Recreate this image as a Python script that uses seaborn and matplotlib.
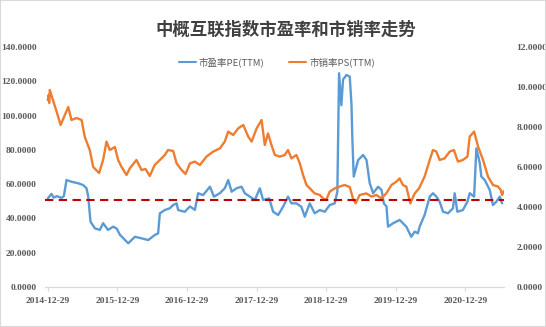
import matplotlib
matplotlib.use("Agg")
import matplotlib.pyplot as plt
import seaborn as sns
import pandas as pd
import numpy as np
from matplotlib.patches import Rectangle
from matplotlib.lines import Line2D

# ---------------- data ----------------
title_text = "中概互联指数市盈率和市销率走势"
pe_label = "市盈率PE(TTM)"
ps_label = "市销率PS(TTM)"
tick_labels = ["2014-12-29", "2015-12-29", "2016-12-29", "2017-12-29",
               "2018-12-29", "2019-12-29", "2020-12-29"]
pe_ticks = [0, 20, 40, 60, 80, 100, 120, 140]
ps_ticks = [0, 2, 4, 6, 8, 10, 12]
pe_ref = 50.8

pe_dates = [
    "2014-12-29", "2015-01-17", "2015-01-29", "2015-02-14", "2015-03-11", "2015-03-23",
    "2015-04-06", "2015-05-02", "2015-06-06", "2015-07-02", "2015-07-20", "2015-07-29",
    "2015-08-10", "2015-09-02", "2015-09-28", "2015-10-15", "2015-11-10", "2015-12-07",
    "2015-12-26", "2016-01-11", "2016-02-24", "2016-03-30", "2016-05-04", "2016-06-08",
    "2016-07-12", "2016-07-30", "2016-08-08", "2016-09-03", "2016-09-29", "2016-10-17",
    "2016-11-04", "2016-11-12", "2016-12-17", "2017-01-13", "2017-02-08", "2017-02-25",
    "2017-03-23", "2017-04-28", "2017-05-19", "2017-06-19", "2017-07-15", "2017-08-02",
    "2017-08-20", "2017-09-15", "2017-10-11", "2017-10-28", "2017-11-24", "2017-12-20",
    "2018-01-15", "2018-02-01", "2018-03-05", "2018-03-26", "2018-04-21", "2018-05-17",
    "2018-06-12", "2018-06-30", "2018-07-26", "2018-08-21", "2018-09-08", "2018-10-04",
    "2018-10-30", "2018-11-26", "2018-12-22", "2019-01-17", "2019-02-12", "2019-02-26",
    "2019-03-07", "2019-03-19", "2019-03-28", "2019-04-15", "2019-05-02", "2019-05-11",
    "2019-05-16", "2019-05-23", "2019-06-15", "2019-07-11", "2019-07-29", "2019-08-15",
    "2019-09-02", "2019-09-28", "2019-10-16", "2019-10-28", "2019-11-11", "2019-11-19",
    "2019-12-16", "2020-01-19", "2020-02-23", "2020-03-20", "2020-04-07", "2020-04-24",
    "2020-05-03", "2020-05-29", "2020-06-25", "2020-07-12", "2020-07-30", "2020-08-16",
    "2020-09-03", "2020-09-29", "2020-10-25", "2020-11-03", "2020-11-17", "2020-12-16",
    "2021-01-09", "2021-01-21", "2021-02-13", "2021-02-25", "2021-03-15", "2021-03-23",
    "2021-04-10", "2021-05-06", "2021-05-23", "2021-06-10", "2021-06-28", "2021-07-10",
]
pe_values = [
    51.7, 54.3, 52.1, 53.0, 52.0, 53.0,
    62.4, 61.4, 60.5, 59.5, 57.6, 52.7,
    38.1, 34.2, 33.3, 37.2, 33.3, 35.2,
    34.0, 30.5, 25.5, 29.3, 28.4, 27.4,
    30.3, 31.3, 43.0, 44.9, 45.9, 47.8,
    48.8, 44.9, 43.9, 47.0, 45.0, 54.7,
    53.6, 58.5, 52.7, 54.7, 57.6, 62.4,
    55.6, 57.6, 58.5, 54.7, 52.7, 50.8,
    57.6, 50.8, 51.7, 43.9, 42.0, 46.8,
    52.7, 48.8, 48.8, 46.8, 41.0, 48.8,
    43.0, 44.9, 43.9, 47.8, 48.8, 55.6,
    124.7, 106.0, 121.0, 123.7, 122.7, 107.0,
    85.8, 64.4, 74.0, 77.0, 74.1, 60.5,
    54.7, 58.5, 56.6, 48.8, 47.0, 35.2,
    37.2, 39.1, 35.2, 29.3, 32.3, 31.3,
    35.2, 42.0, 52.7, 54.7, 52.7, 49.8,
    43.9, 43.0, 45.9, 54.7, 43.9, 44.9,
    49.8, 54.7, 52.7, 80.9, 72.2, 64.4,
    62.4, 56.6, 47.8, 49.8, 52.7, 48.8,
]

ps_dates = [
    "2014-12-29", "2015-01-02", "2015-01-05", "2015-01-08", "2015-02-13", "2015-03-06",
    "2015-04-15", "2015-05-02", "2015-05-29", "2015-06-24", "2015-07-11", "2015-08-06",
    "2015-08-24", "2015-09-24", "2015-10-15", "2015-11-02", "2015-11-19", "2015-12-16",
    "2016-01-02", "2016-01-20", "2016-02-15", "2016-03-03", "2016-04-07", "2016-05-04",
    "2016-05-25", "2016-06-16", "2016-07-12", "2016-08-08", "2016-09-03", "2016-09-20",
    "2016-10-17", "2016-11-04", "2016-11-30", "2016-12-21", "2017-01-13", "2017-02-08",
    "2017-03-06", "2017-04-10", "2017-05-15", "2017-06-19", "2017-07-15", "2017-08-02",
    "2017-08-28", "2017-09-23", "2017-10-20", "2017-11-15", "2017-12-03", "2017-12-29",
    "2018-01-24", "2018-02-10", "2018-02-27", "2018-03-17", "2018-04-04", "2018-04-30",
    "2018-05-26", "2018-06-12", "2018-06-30", "2018-07-26", "2018-08-13", "2018-08-30",
    "2018-09-17", "2018-10-13", "2018-10-30", "2018-11-26", "2018-12-13", "2018-12-29",
    "2019-01-17", "2019-02-12", "2019-03-10", "2019-04-05", "2019-05-02", "2019-05-19",
    "2019-06-02", "2019-06-23", "2019-07-28", "2019-08-24", "2019-09-19", "2019-10-15",
    "2019-11-10", "2019-12-07", "2020-01-02", "2020-01-19", "2020-02-05", "2020-02-23",
    "2020-03-15", "2020-04-07", "2020-04-30", "2020-05-29", "2020-06-25", "2020-07-12",
    "2020-07-30", "2020-08-16", "2020-09-11", "2020-10-08", "2020-10-30", "2020-11-20",
    "2020-12-16", "2021-01-09", "2021-01-21", "2021-02-13", "2021-03-06", "2021-04-01",
    "2021-04-27", "2021-05-23", "2021-06-19", "2021-07-03", "2021-07-10", "2021-07-20",
]
ps_values = [
    9.35, 9.60, 9.20, 9.85, 8.77, 8.10,
    9.00, 8.35, 8.45, 8.35, 7.50, 6.85,
    6.00, 5.70, 6.35, 7.27, 6.85, 7.00,
    6.35, 6.00, 5.60, 5.93, 6.35, 5.85,
    5.90, 5.55, 6.10, 6.35, 6.60, 6.85,
    6.80, 6.18, 5.85, 5.65, 6.18, 6.27,
    6.10, 6.52, 6.77, 6.93, 7.27, 7.77,
    7.60, 7.93, 8.10, 7.52, 7.27, 7.93,
    8.35, 7.10, 7.68, 7.10, 6.60, 6.52,
    6.60, 6.85, 6.43, 6.60, 6.18, 5.60,
    5.10, 4.85, 4.68, 4.60, 4.43, 4.35,
    4.77, 4.93, 5.02, 5.10, 5.00, 4.43,
    4.18, 4.60, 4.68, 4.52, 4.60, 4.43,
    4.68, 5.10, 5.27, 5.43, 5.10, 5.02,
    4.18, 4.68, 4.93, 5.52, 6.35, 6.85,
    6.77, 6.35, 6.43, 6.77, 6.85, 6.27,
    6.35, 6.52, 7.52, 7.77, 7.02, 6.35,
    5.52, 5.10, 5.02, 4.85, 4.60, 4.80,
]

# ---------------- style ----------------
sns.set_theme(style="white")
plt.rcParams["font.family"] = ["Noto Sans CJK SC", "DejaVu Sans"]

blue = "#5B9BD5"
orange = "#ED7D31"
red = "#C00000"
grey_txt = "#595959"
axis_grey = "#D9D9D9"

W, H = 546, 327
fig = plt.figure(figsize=(W / 100, H / 100), dpi=100)
fig.patch.set_facecolor("white")
ax = fig.add_axes([45 / W, 40 / H, 459 / W, 240 / H])
ax2 = ax.twinx()

pe_df = pd.DataFrame({"date": pd.to_datetime(pe_dates), "value": pe_values})
ps_df = pd.DataFrame({"date": pd.to_datetime(ps_dates), "value": ps_values})

sns.lineplot(data=pe_df, x="date", y="value", ax=ax, color=blue, lw=1.7,
             estimator=None, legend=False)
sns.lineplot(data=ps_df, x="date", y="value", ax=ax2, color=orange, lw=1.7,
             estimator=None, legend=False)

ax.set_ylim(pe_ticks[0], pe_ticks[-1])
ax2.set_ylim(ps_ticks[0], ps_ticks[-1])
scale = ps_ticks[-1] / pe_ticks[-1]
ax2.axhline(pe_ref * scale, color=red, lw=1.5, ls=(0, (4, 2.6)), zorder=5)

ax.set_xlim(pd.Timestamp("2014-12-14"), pd.Timestamp("2021-07-20"))
ax.set_xticks(pd.to_datetime(tick_labels))
ax.set_xticklabels(tick_labels)
ax.set_yticks(pe_ticks)
ax.set_yticklabels([f"{v:.4f}" for v in pe_ticks])
ax2.set_yticks(ps_ticks)
ax2.set_yticklabels([f"{v:.4f}" for v in ps_ticks])

for a in (ax, ax2):
    a.set_xlabel("")
    a.set_ylabel("")
    for s in a.spines.values():
        s.set_visible(False)
    a.grid(False)
ax.spines["bottom"].set_visible(True)
ax.spines["bottom"].set_color(axis_grey)
ax.spines["bottom"].set_linewidth(0.9)

tick_font = dict(family="Liberation Serif", size=6.8, weight="bold")
ax.tick_params(axis="x", length=3, width=0.8, color=axis_grey, pad=4,
               labelcolor=grey_txt, direction="out", bottom=True)
ax.tick_params(axis="y", length=0, pad=6, labelcolor=grey_txt)
ax2.tick_params(axis="y", length=0, pad=9, labelcolor=grey_txt)
for lab in ax.get_xticklabels() + ax.get_yticklabels() + ax2.get_yticklabels():
    lab.set_fontfamily(tick_font["family"])
    lab.set_fontsize(tick_font["size"])
    lab.set_fontweight(tick_font["weight"])

# legend
handles = [Line2D([], [], color=blue, lw=1.5), Line2D([], [], color=orange, lw=1.5)]
leg = fig.legend(handles, [pe_label, ps_label], loc="center",
                 bbox_to_anchor=(277 / W, 1 - 62 / H), ncol=2, frameon=False,
                 fontsize=6.8, handlelength=1.8, handletextpad=0.3,
                 columnspacing=2.6)
for t in leg.get_texts():
    t.set_color(grey_txt)

fig.text(286 / W, 1 - 30 / H, title_text, ha="center", va="center",
         fontsize=12.5, fontweight="bold", color="#404040",
         family=["Noto Sans CJK SC", "DejaVu Sans"])

fig.patches.append(Rectangle((0, 0), 1, 1, transform=fig.transFigure,
                             fill=False, edgecolor=axis_grey, lw=1.5))

fig.savefig("out.png", dpi=100, facecolor="white")
